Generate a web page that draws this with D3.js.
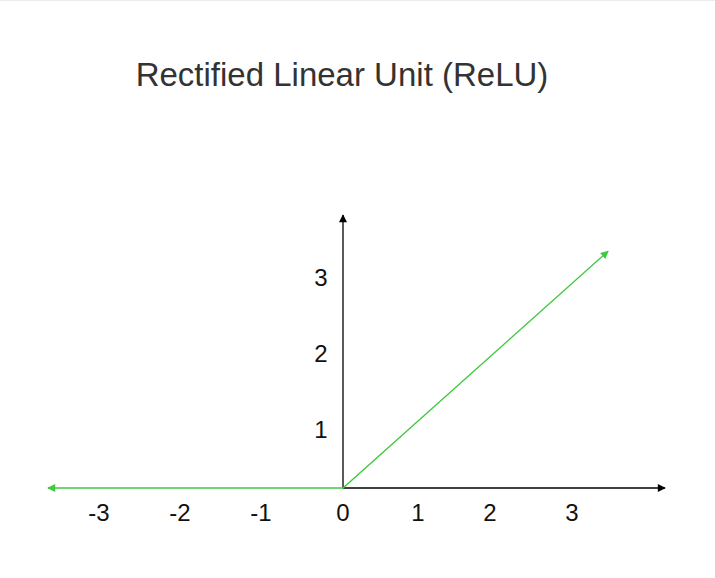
<!DOCTYPE html>
<html>
<head>
<meta charset="utf-8">
<script src="https://cdn.jsdelivr.net/npm/d3@7"></script>
<style>
  body { margin: 0; background: #fff; }
  svg { display: block; }
</style>
</head>
<body>
<script>
// values
var title = "Rectified Linear Unit (ReLU)";
var xTicks = [-3, -2, -1, 0, 1, 2, 3];
var yTicks = [1, 2, 3];
// ReLU polyline: left arm, origin, right arm
var reluPts = [[-3.63, 0], [0, 0], [3.44, 3.34]];

var W = 715, H = 578;

var svg = d3.select("body").append("svg")
    .attr("width", W).attr("height", H);

svg.append("line")
    .attr("x1", 0).attr("x2", W).attr("y1", 0.5).attr("y2", 0.5)
    .attr("stroke", "#ececec");

// the picture's tick spacing is a bit uneven, so piecewise scales
var x = d3.scaleLinear().domain([-3, -2, -1, 0, 1, 2, 3])
    .range([99, 180, 261, 343, 418, 490, 572]);
var y = d3.scaleLinear().domain([0, 1, 2, 3]).range([488, 429, 353, 277]);

var defs = svg.append("defs");
function marker(id, color) {
  defs.append("marker")
      .attr("id", id)
      .attr("viewBox", "0 0 10 10")
      .attr("refX", 9).attr("refY", 5)
      .attr("markerWidth", 9).attr("markerHeight", 8)
      .attr("markerUnits", "userSpaceOnUse")
      .attr("orient", "auto-start-reverse")
      .append("path")
      .attr("d", "M0,0L10,5L0,10Z")
      .attr("fill", color);
}
marker("arrBlack", "#000");
marker("arrGreen", "#3ec93e");

svg.append("text")
    .attr("x", 342).attr("y", 86)
    .attr("text-anchor", "middle")
    .attr("font-family", "Liberation Sans, Arial, sans-serif")
    .attr("font-size", 33)
    .attr("fill", "#333")
    .text(title);

// axes
svg.append("line")
    .attr("x1", x(0)).attr("y1", y(0))
    .attr("x2", 665).attr("y2", y(0))
    .attr("stroke", "#000").attr("stroke-width", 1.3)
    .attr("marker-end", "url(#arrBlack)");

svg.append("line")
    .attr("x1", x(0)).attr("y1", y(0))
    .attr("x2", x(0)).attr("y2", 215)
    .attr("stroke", "#000").attr("stroke-width", 1.3)
    .attr("marker-end", "url(#arrBlack)");

svg.append("g").selectAll("text")
    .data(xTicks)
    .enter().append("text")
    .attr("x", function(d) { return x(d); })
    .attr("y", 521)
    .attr("text-anchor", "middle")
    .attr("font-family", "Liberation Sans, Arial, sans-serif")
    .attr("font-size", 24)
    .attr("fill", "#111")
    .text(function(d) { return d; });

svg.append("g").selectAll("text")
    .data(yTicks)
    .enter().append("text")
    .attr("x", 321)
    .attr("y", function(d) { return y(d) + 9; })
    .attr("text-anchor", "middle")
    .attr("font-family", "Liberation Sans, Arial, sans-serif")
    .attr("font-size", 24)
    .attr("fill", "#111")
    .text(function(d) { return d; });

// ReLU line
var line = d3.line()
    .x(function(d) { return x(d[0]); })
    .y(function(d) { return y(d[1]); });

svg.append("path")
    .datum(reluPts)
    .attr("d", line)
    .attr("fill", "none")
    .attr("stroke", "#3ec93e")
    .attr("stroke-width", 1.3)
    .attr("marker-start", "url(#arrGreen)")
    .attr("marker-end", "url(#arrGreen)");
</script>
</body>
</html>
